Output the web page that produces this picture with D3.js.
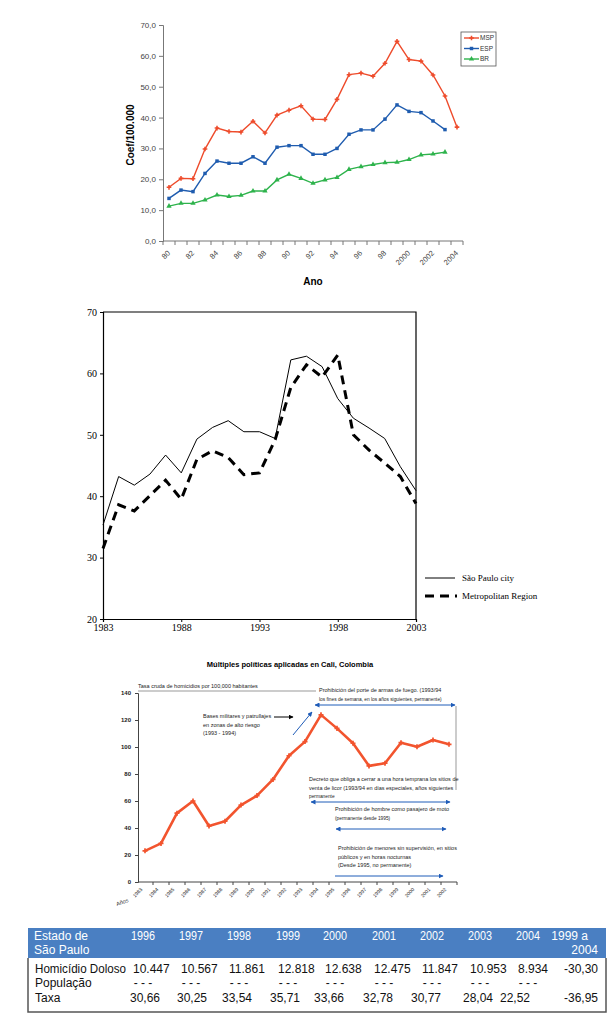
<!DOCTYPE html>
<html>
<head>
<meta charset="utf-8">
<script src="https://cdn.jsdelivr.net/npm/d3@7"></script>
<style>
  body { margin: 0; background: #fff; }
  svg { display: block; }
</style>
</head>
<body>
<svg id="chart" width="615" height="1032"></svg>
<script>
// ---- chart 1: Coef/100.000 (MSP, ESP, BR)
const anos = ['1980','1981','1982','1983','1984','1985','1986','1987','1988','1989','1990','1991','1992',
  '1993','1994','1995','1996','1997','1998','1999','2000','2001','2002','2003','2004']
const anoLabels = { '1980':'80','1982':'82','1984':'84','1986':'86','1988':'88','1990':'90','1992':'92',
  '1994':'94','1996':'96','1998':'98','2000':'2000','2002':'2002','2004':'2004' }
const msp = [17.4,20.3,20.2,29.8,36.6,35.5,35.3,38.8,35.0,40.8,42.4,43.8,39.5,39.4,45.9,53.9,54.4,53.4,57.6,64.7,58.8,58.3,53.8,47.0,36.9]
const esp = [13.8,16.5,16.0,21.9,25.9,25.2,25.2,27.3,25.2,30.4,30.9,30.9,28.1,28.1,30.0,34.6,36.0,36.0,39.5,44.1,42.0,41.6,38.9,36.1]
const br  = [11.3,12.2,12.2,13.3,14.9,14.4,14.8,16.2,16.2,19.8,21.6,20.3,18.7,19.8,20.6,23.2,24.1,24.8,25.4,25.5,26.4,27.9,28.2,28.8]

// ---- chart 2: São Paulo city vs Metropolitan Region
const anos2 = [1983,1984,1985,1986,1987,1988,1989,1990,1991,1992,1993,1994,1995,1996,1997,1998,1999,2000,2001,2002,2003]
const spCity = [35.3,43.2,41.8,43.6,46.7,43.8,49.3,51.2,52.3,50.5,50.5,49.4,62.2,62.8,61.1,55.9,52.7,51.1,49.4,44.8,40.9]
const metro  = [31.5,38.6,37.6,40.1,42.6,39.5,46.0,47.4,46.3,43.5,43.8,49.2,57.7,61.4,59.4,63.0,50.0,47.5,45.4,43.2,38.8]

// ---- chart 3: Cali
const caliAnos = ['1983','1984','1985','1986','1987','1988','1989','1990','1991','1992','1993','1994',
  '1995','1996','1997','1998','1999','2000','2001','2002']
const cali = [23.1,28.6,51.0,60.0,41.5,45.0,57.0,64.0,76.0,93.5,104.0,123.8,113.8,102.8,86.0,88.0,103.2,100.2,105.2,102.0]

// ---- table
const tabAnos = ['1996','1997','1998','1999','2000','2001','2002','2003','2004']
const homicidio = ['10.447','10.567','11.861','12.818','12.638','12.475','11.847','10.953','8.934','-30,30']
const taxa = ['30,66','30,25','33,54','35,71','33,66','32,78','30,77','28,04','22,52','-36,95']

const svg = d3.select('#chart')
const sans = 'Liberation Sans, Arial, sans-serif'
const serif = 'Liberation Serif, Times New Roman, serif'

// ================= chart 1
{
  const g = svg.append('g').style('font-family', sans)
  const x = d3.scaleBand().domain(anos).range([163, 463])
  const y = d3.scaleLinear().domain([0, 70]).range([241, 25])

  const yAx = g.append('g').attr('transform', 'translate(163,0)')
    .call(d3.axisLeft(y).tickValues([0,10,20,30,40,50,60,70]).tickSize(4).tickPadding(3)
      .tickFormat(d => d3.format('.1f')(d).replace('.', ',')))
  yAx.selectAll('path,line').attr('stroke', '#777')
  yAx.selectAll('text').attr('fill', '#444').style('font-size', '8px')

  g.append('line').attr('x1', 163).attr('x2', 463).attr('y1', 241).attr('y2', 241).attr('stroke', '#777')
  g.selectAll('.xt').data(anos.concat(['end'])).join('line')
    .attr('x1', (d, i) => 163 + i * x.step()).attr('x2', (d, i) => 163 + i * x.step())
    .attr('y1', 241).attr('y2', 245).attr('stroke', '#777')
  g.selectAll('.xl').data(anos.filter(a => anoLabels[a])).join('text')
    .attr('transform', d => `translate(${x(d) + x.bandwidth() / 2 - 1},251) rotate(-45)`)
    .attr('text-anchor', 'end').attr('dy', '0.5em')
    .style('font-size', '7.5px').attr('fill', '#444').text(d => anoLabels[d])

  g.append('text').attr('transform', 'translate(134,135) rotate(-90)').attr('text-anchor', 'middle')
    .style('font-size', '10px').style('font-weight', 'bold').text('Coef/100.000')
  g.append('text').attr('x', 313).attr('y', 285).attr('text-anchor', 'middle')
    .style('font-size', '10px').style('font-weight', 'bold').text('Ano')

  const series = [
    { name: 'MSP', values: msp, color: '#ee4b2b', sym: d3.symbolCross },
    { name: 'ESP', values: esp, color: '#1f5caf', sym: d3.symbolSquare },
    { name: 'BR', values: br, color: '#2eb34c', sym: d3.symbolTriangle }
  ]
  const cx = i => x(anos[i]) + x.bandwidth() / 2
  series.forEach(s => {
    g.append('path').datum(s.values)
      .attr('d', d3.line().x((d, i) => cx(i)).y(d => y(d)))
      .attr('fill', 'none').attr('stroke', s.color).attr('stroke-width', 1.4)
    g.selectAll(null).data(s.values).join('path')
      .attr('transform', (d, i) => `translate(${cx(i)},${y(d)})`)
      .attr('d', d3.symbol(s.sym, 12)).attr('fill', s.color)
  })

  // legend
  const lg = g.append('g')
  lg.append('rect').attr('x', 461).attr('y', 32).attr('width', 35).attr('height', 34)
    .attr('fill', '#fff').attr('stroke', '#555').attr('stroke-width', 0.8)
  series.forEach((s, i) => {
    const yy = 38 + i * 10.5
    lg.append('line').attr('x1', 464).attr('x2', 479).attr('y1', yy).attr('y2', yy)
      .attr('stroke', s.color).attr('stroke-width', 1.4)
    lg.append('path').attr('transform', `translate(471.5,${yy})`).attr('d', d3.symbol(s.sym, 12)).attr('fill', s.color)
    lg.append('text').attr('x', 480).attr('y', yy).attr('dy', '0.35em')
      .style('font-size', '6.5px').attr('fill', '#333').text(s.name)
  })
}

// ================= chart 2
{
  const g = svg.append('g').style('font-family', serif)
  const x = d3.scaleLinear().domain([1983, 2003]).range([103, 416])
  const y = d3.scaleLinear().domain([20, 70]).range([619, 312])

  const yAx = g.append('g').attr('transform', 'translate(103,0)')
    .call(d3.axisLeft(y).tickValues([20,30,40,50,60,70]).tickSize(3).tickPadding(3))
  const xAx = g.append('g').attr('transform', 'translate(0,619)')
    .call(d3.axisBottom(x).tickValues([1983,1988,1993,1998,2003]).tickSize(3).tickPadding(2).tickFormat(d3.format('d')))
  ;[yAx, xAx].forEach(a => {
    a.select('.domain').attr('stroke', '#000').attr('stroke-width', 1.2)
    a.selectAll('line').attr('stroke', '#000')
    a.selectAll('text').style('font-family', serif).style('font-size', '10px').attr('fill', '#000')
  })
  g.append('path').attr('d', `M103,312H416V619`).attr('fill', 'none').attr('stroke', '#000').attr('stroke-width', 1.2)

  const line = d3.line().x((d, i) => x(anos2[i])).y(d => y(d))
  g.append('path').datum(spCity).attr('d', line).attr('fill', 'none').attr('stroke', '#000').attr('stroke-width', 1)
  g.append('path').datum(metro).attr('d', line).attr('fill', 'none').attr('stroke', '#000')
    .attr('stroke-width', 3).attr('stroke-dasharray', '9,6')

  g.append('line').attr('x1', 425).attr('x2', 455).attr('y1', 578).attr('y2', 578).attr('stroke', '#000').attr('stroke-width', 1)
  g.append('line').attr('x1', 425).attr('x2', 457).attr('y1', 596).attr('y2', 596).attr('stroke', '#000')
    .attr('stroke-width', 3).attr('stroke-dasharray', '9,6')
  g.append('text').attr('x', 462).attr('y', 581).style('font-size', '9px').text('São Paulo city')
  g.append('text').attr('x', 462).attr('y', 599).style('font-size', '9px').text('Metropolitan Region')
}

// ================= chart 3
{
  const g = svg.append('g').style('font-family', sans)
  const x = d3.scaleBand().domain(caliAnos).range([137, 457])
  const y = d3.scaleLinear().domain([0, 140]).range([882, 693])
  const blue = '#1f5cb8'

  g.append('text').attr('x', 290).attr('y', 667).attr('text-anchor', 'middle')
    .style('font-size', '7.5px').style('font-weight', 'bold').text('Múltiples políticas aplicadas en Cali, Colombia')
  g.append('text').attr('x', 138).attr('y', 688).style('font-size', '5.5px').attr('fill', '#222')
    .text('Tasa cruda de homicidios por 100,000 habitantes')
  g.append('line').attr('x1', 138).attr('x2', 316).attr('y1', 691).attr('y2', 691).attr('stroke', '#555').attr('stroke-width', 0.6)

  const yAx = g.append('g').attr('transform', 'translate(138,0)')
    .call(d3.axisLeft(y).tickValues([0,20,40,60,80,100,120,140]).tickSize(3).tickPadding(4))
  yAx.selectAll('path,line').attr('stroke', '#444')
  yAx.selectAll('text').style('font-size', '6px').style('font-weight', 'bold').attr('fill', '#222')

  g.append('line').attr('x1', 138).attr('x2', 457).attr('y1', 882).attr('y2', 882).attr('stroke', '#444')
  g.selectAll('.ct').data(caliAnos).join('line')
    .attr('x1', d => x(d) + x.bandwidth()).attr('x2', d => x(d) + x.bandwidth())
    .attr('y1', 882).attr('y2', 885).attr('stroke', '#444')
  g.selectAll('.cl').data(caliAnos).join('text')
    .attr('transform', d => `translate(${x(d) + x.bandwidth() / 2 - 4},888) rotate(-45)`)
    .attr('text-anchor', 'end').attr('dy', '0.5em').style('font-size', '5px').attr('fill', '#222').text(d => d)
  g.append('text').attr('transform', 'translate(117,906) rotate(-20)').style('font-size', '5.5px').attr('fill', '#222').text('Años')

  const cx = i => x(caliAnos[i]) + x.bandwidth() / 2
  g.append('path').datum(cali).attr('d', d3.line().x((d, i) => cx(i)).y(d => y(d)))
    .attr('fill', 'none').attr('stroke', '#f2542e').attr('stroke-width', 2.6).attr('stroke-linejoin', 'round')
  g.selectAll(null).data(cali).join('path')
    .attr('transform', (d, i) => `translate(${cx(i)},${y(d)})`)
    .attr('d', d3.symbol(d3.symbolCross, 14)).attr('fill', '#f2542e')

  // arrows
  const defs = svg.append('defs')
  const mk = (id, col) => defs.append('marker').attr('id', id).attr('viewBox', '0 0 10 10')
    .attr('refX', 9).attr('refY', 5).attr('markerWidth', 5).attr('markerHeight', 5).attr('orient', 'auto-start-reverse')
    .append('path').attr('d', 'M0,0L10,5L0,10Z').attr('fill', col)
  mk('ab', blue); mk('ak', '#000')
  const arrow = (x1, y1, x2, y2, col, both) => {
    const l = g.append('line').attr('x1', x1).attr('y1', y1).attr('x2', x2).attr('y2', y2)
      .attr('stroke', col).attr('stroke-width', 1).attr('marker-end', `url(#${col === '#000' ? 'ak' : 'ab'})`)
    if (both) l.attr('marker-start', 'url(#ab)')
  }
  const txt = (xx, yy, lines, size) => lines.forEach((t, i) =>
    g.append('text').attr('x', xx).attr('y', yy + i * 8.5).style('font-size', (Array.isArray(size) ? size[i] : size) + 'px')
      .attr('fill', '#222').text(t))

  txt(319, 692, ['Prohibición del porte de armas de fuego. (1993/94', 'los fines de semana, en los años siguientes, permanente)'], [5.5, 4.8])
  arrow(315, 705, 455, 705, blue, true)
  g.append('line').attr('x1', 456).attr('x2', 456).attr('y1', 706).attr('y2', 790).attr('stroke', '#555').attr('stroke-width', 0.6)

  txt(203, 718, ['Bases militares y patrullajes', 'en zonas de alto riesgo', '(1993      - 1994)'], 5.5)
  arrow(274, 717, 293, 717, '#000', false)
  arrow(293, 735, 312, 712, blue, false)

  txt(309, 781, ['Decreto que obliga a cerrar a una hora temprana los sitios de', 'venta de licor (1993/94 en días especiales, años siguientes', 'permanente'], [5.5, 5.5, 4.8])
  arrow(311, 802, 450, 802, blue, true)

  txt(335, 811, ['Prohibición de hombre como pasajero de moto', '(permanente desde 1995)'], [5.5, 4.8])
  arrow(336, 829, 446, 829, blue, true)

  txt(338, 850, ['Prohibición de menores sin supervisión, en sitios', 'públicos y en horas nocturnas', '(Desde 1995,  no permanente)'], 5.5)
  arrow(335, 876, 443, 876, blue, false)
}

// ================= table
{
  const g = svg.append('g').style('font-family', 'Liberation Sans, Arial, sans-serif').style('font-size', '12px')
  const colStart = [131, 179, 227, 276, 323, 372, 420, 468, 516]
  const taxaEnd = [160, 207, 252, 300, 344, 393, 441, 493, 530]
  g.append('rect').attr('x', 28).attr('y', 928).attr('width', 578).attr('height', 30).attr('fill', '#4a7fc2')
  g.append('path').attr('d', 'M28,958V1012H606V958').attr('fill', 'none').attr('stroke', '#555').attr('stroke-width', 1.5)

  g.append('text').attr('x', 34).attr('y', 940).attr('fill', '#fff').text('Estado de')
  g.append('text').attr('x', 34).attr('y', 954).attr('fill', '#fff').text('São Paulo')
  g.selectAll('.th').data(tabAnos).join('text').attr('x', (d, i) => colStart[i]).attr('y', 940)
    .attr('fill', '#fff').attr('textLength', 24).attr('lengthAdjust', 'spacingAndGlyphs').text(d => d)
  g.append('text').attr('x', 588).attr('y', 940).attr('text-anchor', 'end').attr('fill', '#fff').text('1999 a')
  g.append('text').attr('x', 598).attr('y', 954).attr('text-anchor', 'end').attr('fill', '#fff').text('2004')

  g.append('text').attr('x', 35).attr('y', 973).attr('fill', '#111')
    .attr('textLength', 91).attr('lengthAdjust', 'spacingAndGlyphs').text('Homicídio Doloso')
  g.append('text').attr('x', 35).attr('y', 987).attr('fill', '#111').text('População')
  g.append('text').attr('x', 35).attr('y', 1002).attr('fill', '#111').text('Taxa')

  g.selectAll('.h').data(homicidio).join('text')
    .attr('x', (d, i) => i < 9 ? colStart[i] + 2 : 598).attr('y', 973)
    .attr('text-anchor', (d, i) => i < 9 ? 'start' : 'end').attr('fill', '#111').text(d => d)
  g.selectAll('.p').data(tabAnos).join('text').attr('x', (d, i) => colStart[i] + 12).attr('y', 987)
    .attr('text-anchor', 'middle').attr('fill', '#111').text('- - -')
  g.selectAll('.t').data(taxa).join('text')
    .attr('x', (d, i) => i < 9 ? taxaEnd[i] : 598).attr('y', 1002)
    .attr('text-anchor', 'end').attr('fill', '#111').text(d => d)
}
</script>
</body>
</html>
